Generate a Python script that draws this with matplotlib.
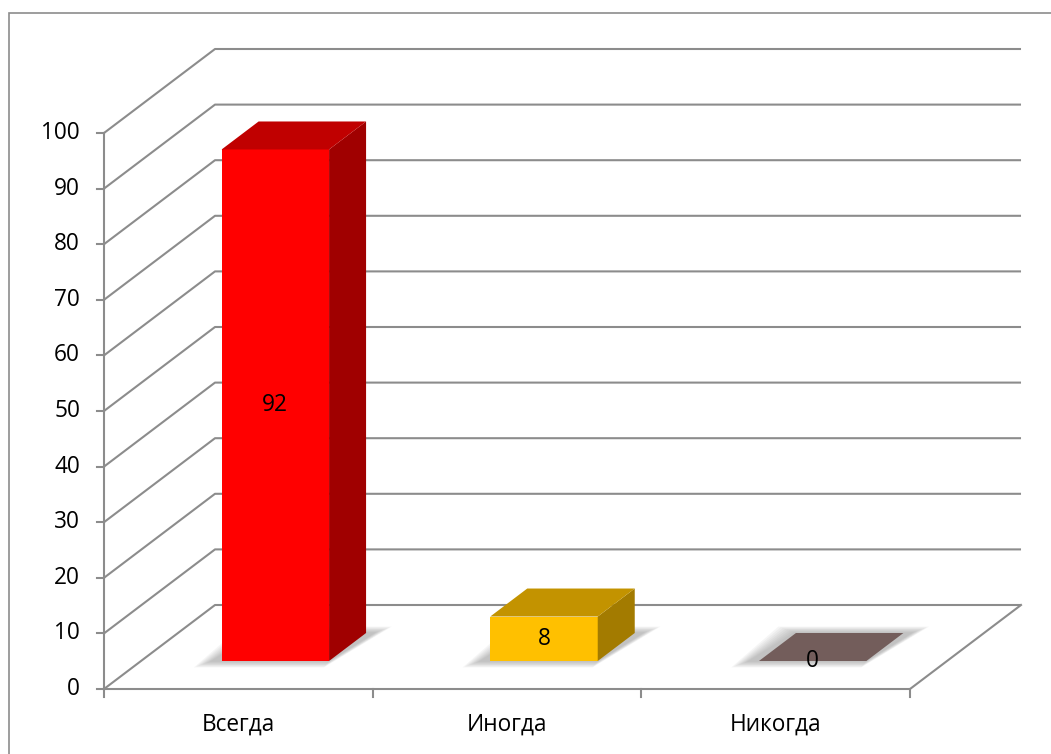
import numpy as np
import matplotlib.pyplot as plt
from matplotlib.patches import Polygon, Rectangle

# данные
categories = ['Всегда', 'Иногда', 'Никогда']
values = [92, 8, 0]
front_colors = ['#FF0000', '#FFC000', '#735D5B']
top_colors = ['#C00000', '#C39300', '#735D5B']
side_colors = ['#A00000', '#A37B00', '#5E4B49']
yticks = np.arange(0, 101, 10)

# размеры картинки в пикселях и масштаб осей
W, H = 1051, 754
x0_px, xs_px = 104, 268.67      # начало категорий и ширина категории
y0_px, ys_px = 689, 5.56        # ноль и пикселей на единицу
ddx = 111 / xs_px               # глубина по x (в категориях)
ddy = 84 / ys_px                # глубина по y (в единицах)
bw = 0.4                        # ширина столбца
f0, f1 = 1 / 3, 2 / 3           # передняя и задняя грань столбца по глубине

fig = plt.figure(figsize=(W / 100, H / 100), dpi=100)
ax = fig.add_axes([0, 0, 1, 1])
ax.set_xlim(-x0_px / xs_px, (W - x0_px) / xs_px)
ax.set_ylim(-(H - y0_px) / ys_px, y0_px / ys_px)
ax.axis('off')

grid_c = '#8C8C8C'
font = ['Open Sans', 'DejaVu Sans']
fs = 16.3

# рамка
ax.add_patch(Rectangle((-(x0_px - 9) / xs_px, -(H - y0_px + 20) / ys_px),
                       (W + 20) / xs_px, (y0_px - 13 + H - y0_px + 20) / ys_px,
                       fill=False, ec='#8C8C8C', lw=1.2, zorder=0))

n = len(categories)
# сетка на задней стенке и левой стенке
for v in yticks:
    ax.plot([0, ddx, n + ddx], [v, v + ddy, v + ddy], color=grid_c, lw=1.5,
            zorder=1, solid_capstyle='butt')
    ax.plot([-7 / xs_px, 0], [v, v], color=grid_c, lw=1.5, zorder=1)
    ax.text(-24 / xs_px, v, str(v), ha='right', va='center', fontsize=fs,
            family=font, color='black')

# оси
ax.plot([0, 0], [0, yticks[-1]], color=grid_c, lw=1.5, zorder=1)
ax.plot([0, n, n + ddx], [0, 0, ddy], color=grid_c, lw=1.5, zorder=1)
for i in range(n + 1):
    ax.plot([i, i], [0, -8 / ys_px], color=grid_c, lw=1.5, zorder=1)
for i, c in enumerate(categories):
    ax.text(i + 0.5, -36 / ys_px, c, ha='center', va='center', fontsize=fs,
            family=font, color='black')

# столбцы
for i, v in enumerate(values):
    xl = i + 0.5 - bw / 2
    xr = i + 0.5 + bw / 2
    fx0, fy0 = f0 * ddx, f0 * ddy
    fx1, fy1 = f1 * ddx, f1 * ddy
    # тень
    for k in range(8):
        e = (8 - k) * 2.2 / xs_px
        ey = (8 - k) * 0.8 / ys_px
        sh = [(xl + fx0 - 10 / xs_px - e, fy0 - ey), (xr + fx0 - e * 0.3, fy0 - ey),
              (xr + fx1 + 8 / xs_px + e, fy1 + ey), (xl + fx1 - e, fy1 + ey)]
        ax.add_patch(Polygon(sh, closed=True, fc='#7F7F7F', ec='none',
                             alpha=0.07, zorder=2))
    top = [(xl + fx0, v + fy0), (xr + fx0, v + fy0), (xr + fx1, v + fy1), (xl + fx1, v + fy1)]
    if v > 0:
        front = [(xl + fx0, fy0), (xr + fx0, fy0), (xr + fx0, v + fy0), (xl + fx0, v + fy0)]
        side = [(xr + fx0, fy0), (xr + fx1, fy1), (xr + fx1, v + fy1), (xr + fx0, v + fy0)]
        ax.add_patch(Polygon(front, closed=True, fc=front_colors[i], ec='none', zorder=3))
        ax.add_patch(Polygon(side, closed=True, fc=side_colors[i], ec='none', zorder=3))
        ax.add_patch(Polygon(top, closed=True, fc=top_colors[i], ec='none', zorder=3))
    else:
        ax.add_patch(Polygon(top, closed=True, fc=front_colors[i], ec='none', zorder=3))
    ax.text(i + 0.5 + fx0, fy0 + v / 2, str(v), ha='center', va='center',
            fontsize=fs, family=font, color='black', zorder=4)

fig.savefig('out.png', dpi=100)
